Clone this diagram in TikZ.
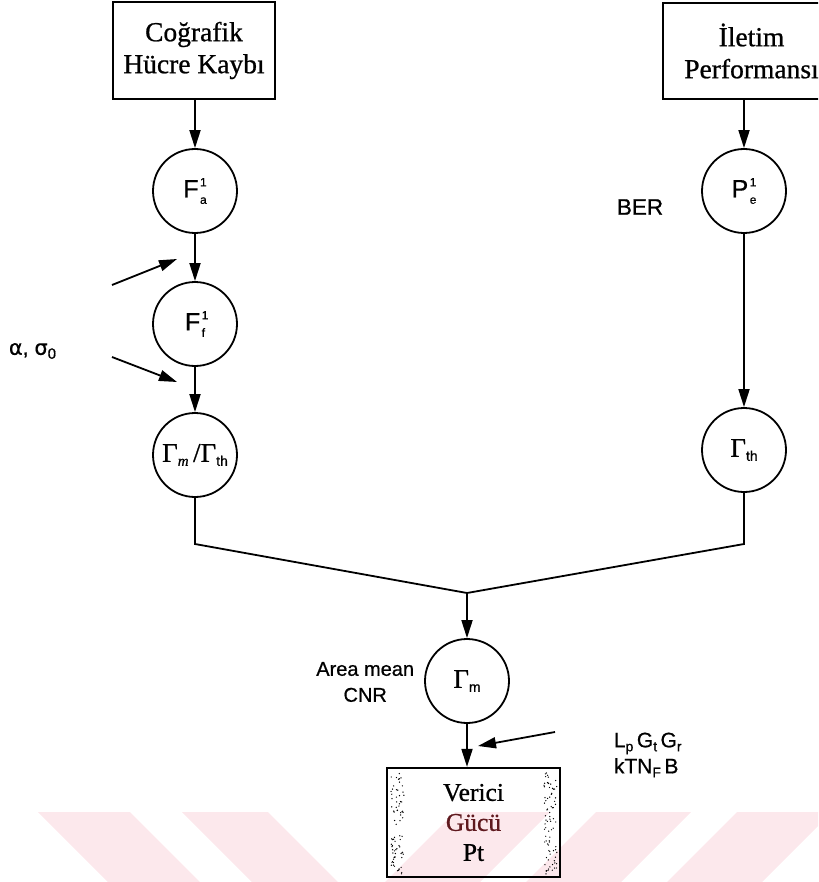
\documentclass[tikz,border=0pt]{standalone}
\usepackage{fontspec}
\setmainfont{Liberation Serif}[FakeBold=0.8]
\newfontfamily\sflab{Liberation Sans}[FakeBold=0.7]
\newfontfamily\grk{DejaVu Sans}[FakeBold=0.5]
\usetikzlibrary{arrows.meta}
\definecolor{wm}{RGB}{252,232,236}
\definecolor{maroontxt}{RGB}{95,25,30}
\newcommand\SupSub[2]{\kern1.5pt\rlap{\raisebox{11pt}{\fontsize{12}{12}\selectfont #1}}\raisebox{-6.5pt}{\fontsize{12}{12}\selectfont #2}}
\newcommand\sbs[1]{\raisebox{-4pt}{\sflab\fontsize{14}{14}\selectfont #1}}
\begin{document}
\begin{tikzpicture}[x=1pt,y=-1pt, line width=1.8pt,
  every node/.style={inner sep=0pt},
  circ/.style={draw, circle, minimum size=84pt},
  rbox/.style={draw, rectangle, line width=2.2pt},
  arr/.style={-{Triangle[length=18pt,width=11pt]}},
  boxtext/.style={font=\fontsize{27.5}{32}\selectfont, align=center},
  lab/.style={font=\sflab\fontsize{21}{26}\selectfont},
  cl/.style={font=\sflab\fontsize{25}{25}\selectfont},
  gl/.style={font=\fontsize{27}{27}\selectfont},
]
\clip (0,0) rectangle (818,882);
% watermark stripes
\fill[wm] (38,812) -- (130,812) -- (200,882) -- (108,882) -- cycle;
\fill[wm] (182,812) -- (268,812) -- (338,882) -- (252,882) -- cycle;
\foreach \a in {455,596,737} \fill[wm] (\a,812) -- (\a+95,812) -- (\a+25,882) -- (\a-70,882) -- cycle;

% boxes
\node[rbox, minimum width=162pt, minimum height=97pt, boxtext] (cbox) at (194,50.5) {Coğrafik\\Hücre Kaybı};
\node[rbox, minimum width=177pt, minimum height=96pt, boxtext] (ibox) at (751.5,51) {İletim\\Performansı};
\node[rbox, minimum width=173pt, minimum height=109pt, font=\fontsize{25.5}{30}\selectfont, align=center] (vbox) at (473.5,822.5) {Verici\\\textcolor{maroontxt}{Gücü}\\Pt};

% circles
\node[circ, cl] (Fa) at (195,191) {\makebox[0pt]{F\SupSub{1}{a}}};
\node[circ, cl] (Ff) at (195,324) {\makebox[0pt]{F\SupSub{1}{f}}};
\node[circ, gl] (Gmth) at (195,455) {\makebox[0pt]{Γ\raisebox{-4pt}{\fontsize{15}{15}\selectfont\itshape m}\,/Γ\sbs{th}}};
\node[circ, cl] (Pe) at (744,191) {\makebox[0pt]{P\SupSub{1}{e}}};
\node[circ, gl] (Gth) at (744,450) {\makebox[0pt]{Γ\sbs{th}}};
\node[circ, gl] (Gm) at (467,681) {\makebox[0pt]{Γ\sbs{m}}};

% labels
\node[lab, anchor=west] (alab) at (8,351) {{\grk α}, {\grk σ}\raisebox{-4pt}{\fontsize{15}{15}\selectfont 0}};
\node[lab, anchor=west, font=\sflab\fontsize{22.5}{26}\selectfont] (ber) at (616,207) {BER};
\node[lab, anchor=east, align=center, font=\sflab\fontsize{20}{26}\selectfont] (area) at (415,682) {Area mean\\CNR};
\node[lab, anchor=west, align=left] (lp) at (613,755) {L\raisebox{-4pt}{\fontsize{14}{14}\selectfont p}\,G\raisebox{-4pt}{\fontsize{14}{14}\selectfont t}\,G\raisebox{-4pt}{\fontsize{14}{14}\selectfont r}\\kTN\raisebox{-4pt}{\fontsize{14}{14}\selectfont F}\,B};

% connectors
\draw[arr] (cbox.south -| Fa.north) -- (Fa.north);
\draw[arr] (Fa) -- (Ff);
\draw[arr] (Ff) -- (Gmth);
\draw[arr] (ibox.south -| Pe.north) -- (Pe.north);
\draw[arr] (Pe) -- (Gth);
\coordinate (jl) at (195,544);
\coordinate (jm) at (467,593);
\coordinate (jr) at (744,544);
\draw (Gmth.south) -- (jl) -- (jm) -- (jr) -- (Gth.south);
\draw[arr] (jm) -- (Gm.north);
\draw[arr] (Gm.south) -- (Gm.south |- vbox.north);

% side arrows
\coordinate (s1a) at (112,285); \coordinate (s1b) at (177,259);
\coordinate (s2a) at (112,357); \coordinate (s2b) at (177,382);
\coordinate (s3a) at (555,732); \coordinate (s3b) at (478,746);
\draw[arr] (s1a) -- (s1b);
\draw[arr] (s2a) -- (s2b);
\draw[arr] (s3a) -- (s3b);

% stipple inside power box
\pgfmathsetseed{7}
\foreach \i in {1,...,80}{
  \pgfmathsetmacro\xx{391+13*rnd}\pgfmathsetmacro\yy{772+102*rnd}
  \fill (\xx,\yy) circle (0.7pt);
  \pgfmathsetmacro\xx{544+13*rnd}\pgfmathsetmacro\yy{772+102*rnd}
  \fill (\xx,\yy) circle (0.7pt);
}
\end{tikzpicture}
\end{document}
